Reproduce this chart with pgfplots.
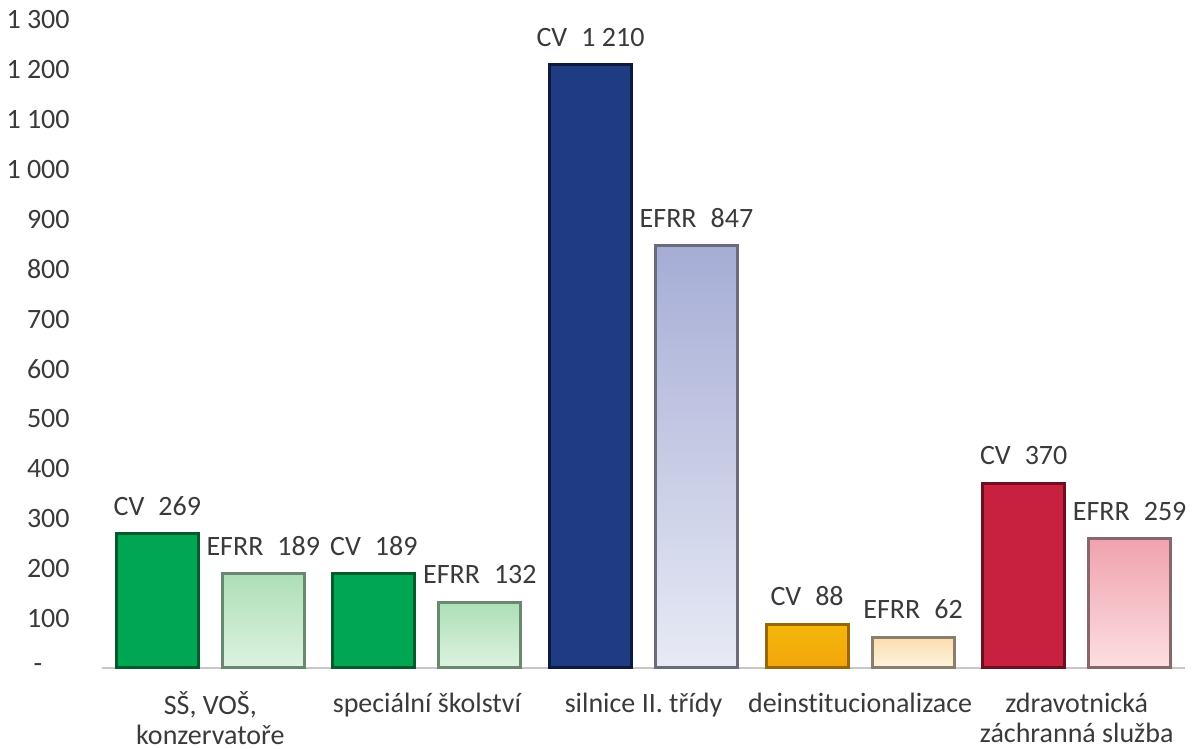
\documentclass[border=0pt]{standalone}
\usepackage{fontspec}
\setmainfont{Carlito}[Ligatures={NoCommon,NoRare}]
\usepackage{pgfplots}
\pgfplotsset{compat=1.18}
\definecolor{txt}{HTML}{3A3A3A}
\definecolor{cvG}{HTML}{00A651}
\definecolor{cvGd}{HTML}{005A2B}
\definecolor{efG1}{HTML}{ADDFB6}
\definecolor{efG2}{HTML}{DDF3E0}
\definecolor{efGd}{HTML}{6A876F}
\definecolor{cvB}{HTML}{1F3B82}
\definecolor{cvBd}{HTML}{0C1A42}
\definecolor{efB1}{HTML}{A5ADD5}
\definecolor{efB2}{HTML}{E8EAF5}
\definecolor{efBd}{HTML}{6A6C7A}
\definecolor{cvO}{HTML}{F2A60C}
\definecolor{cvOd}{HTML}{9A6600}
\definecolor{efO1}{HTML}{FBDDAE}
\definecolor{efO2}{HTML}{FFF3DE}
\definecolor{efOd}{HTML}{8A7F6C}
\definecolor{cvR}{HTML}{C8213F}
\definecolor{cvRd}{HTML}{6E0E20}
\definecolor{efR1}{HTML}{F0A2AD}
\definecolor{efR2}{HTML}{FCDFE2}
\definecolor{efRd}{HTML}{86676B}
\pgfkeys{/pgf/number format/assume math mode=true, /pgf/number format/1000 sep={\ }}
\begin{document}
\fontsize{14}{15}\selectfont
\begin{tikzpicture}
\path[use as bounding box] (-51pt,-40.5pt) rectangle (546pt,334pt);
\begin{axis}[
  at={(0,0)}, anchor=south west,
  scale only axis, width=541.5pt, height=324pt,
  xmin=-0.5, xmax=4.5, ymin=0, ymax=1300,
  axis x line*=bottom, axis y line*=left,
  x axis line style={draw=black!22, line width=0.8pt, -},
  y axis line style={draw=none},
  major tick length=0pt,
  xtick={0,1,2,3,4},
  xticklabels={{\strut SŠ, VOŠ,\\konzervatoře}, {\strut speciální školství}, {\strut silnice II. třídy}, {\strut deinst\kern0pt itucionalizace}, {\strut zdravotnická\\záchranná služba}},
  xticklabel style={align=center, anchor=north, inner sep=0pt, text=txt, yshift=-11.5pt, font=\fontsize{14}{15}\selectfont},
  ytick={0,100,200,300,400,500,600,700,800,900,1000,1100,1200,1300},
  yticklabels={\makebox[18pt][l]{-},100,200,300,400,500,600,700,800,900,1 000,1 100,1 200,1 300},
  yticklabel style={anchor=east, inner sep=0pt, text=txt, xshift=-16pt, font=\fontsize{14}{15}\selectfont},
  ybar, bar width=41pt,
  cvlab/.style={nodes near coords={CV\hspace{0.5em}\pgfmathprintnumber{\pgfplotspointmeta}}},
  eflab/.style={nodes near coords={EFRR\hspace{0.5em}\pgfmathprintnumber{\pgfplotspointmeta}}},
  every node near coord/.append style={anchor=south, inner sep=0pt, text=txt, yshift=8.5pt, font=\fontsize{14}{15}\selectfont},
  cvs/.style={bar shift=-26.5pt, cvlab, line width=1.5pt},
  efs/.style={bar shift=26.5pt, eflab, line width=1.5pt},
  clip=false,
]
% CV series
\addplot[cvs, fill=cvG, draw=cvGd] coordinates {(0,269)};
\addplot[cvs, fill=cvG, draw=cvGd] coordinates {(1,189)};
\addplot[cvs, fill=cvB, draw=cvBd] coordinates {(2,1210)};
\addplot[cvs, top color=cvO!80!yellow, bottom color=cvO, draw=cvOd] coordinates {(3,88)};
\addplot[cvs, fill=cvR, draw=cvRd] coordinates {(4,370)};
% EFRR series
\addplot[efs, top color=efG1, bottom color=efG2, draw=efGd] coordinates {(0,189)};
\addplot[efs, top color=efG1, bottom color=efG2, draw=efGd] coordinates {(1,132)};
\addplot[efs, top color=efB1, bottom color=efB2, draw=efBd] coordinates {(2,847)};
\addplot[efs, top color=efO1, bottom color=efO2, draw=efOd] coordinates {(3,62)};
\addplot[efs, top color=efR1, bottom color=efR2, draw=efRd] coordinates {(4,259)};
\end{axis}
\end{tikzpicture}
\end{document}
